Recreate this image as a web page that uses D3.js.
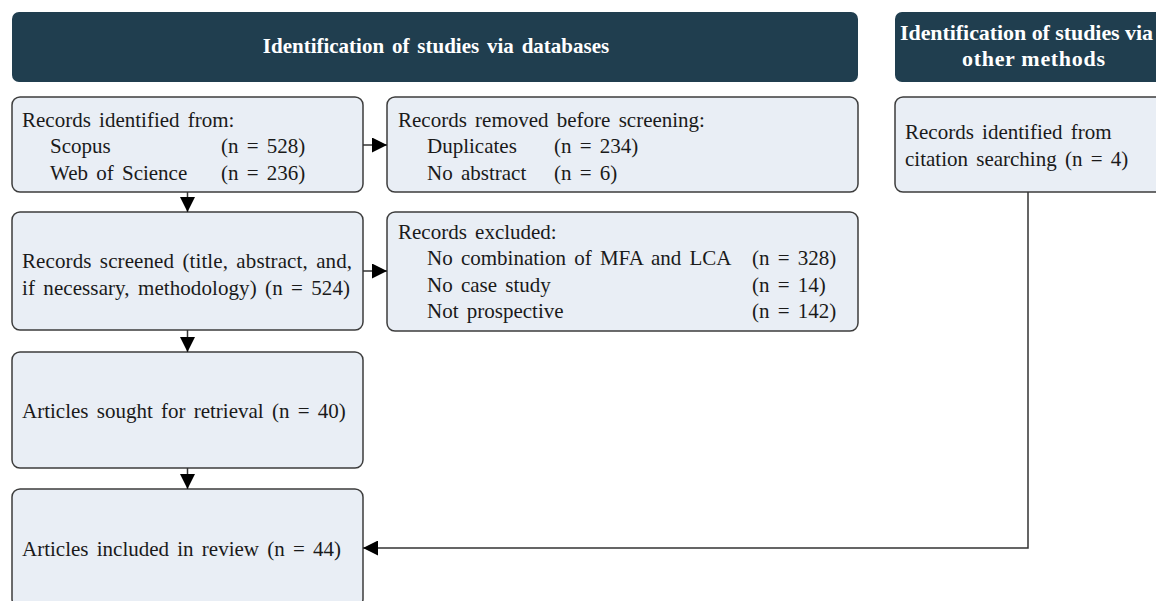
<!DOCTYPE html>
<html>
<head>
<meta charset="utf-8">
<script src="https://cdn.jsdelivr.net/npm/d3@7"></script>
<style>
  html, body { margin: 0; padding: 0; background: #fff; overflow: hidden; }
  text { font-family: "Liberation Serif", "Times New Roman", serif; fill: #1a1a1a; }
</style>
</head>
<body>
<div id="flow"></div>
<script>
//---------------- DATA ----------------
var headers = ["Identification of studies via databases", "Identification of studies via|other methods"];

var sourceNames = ["Scopus", "Web of Science"];
var sourceCounts = [528, 236];

var removedReasons = ["Duplicates", "No abstract"];
var removedCounts = [234, 6];

var excludedReasons = ["No combination of MFA and LCA", "No case study", "Not prospective"];
var excludedCounts = [328, 14, 142];

var stageLabels = ["Records screened", "Articles sought for retrieval", "Articles included in review"];
var stageCounts = [524, 40, 44];

var citationCount = 4;

//---------------- SETUP ----------------
var w = 1156, h = 601;
var headColor = "#203e4f";
var boxFill = "#e9eef5";
var boxStroke = "#3d3d3d";
var fs = 21;

var svg = d3.select("#flow").append("svg")
    .attr("width", w).attr("height", h);

var defs = svg.append("defs");
defs.append("marker")
    .attr("id", "arr")
    .attr("viewBox", "0 0 10 10")
    .attr("refX", 10).attr("refY", 5)
    .attr("markerUnits", "userSpaceOnUse")
    .attr("markerWidth", 15).attr("markerHeight", 15)
    .attr("orient", "auto")
    .append("path")
    .attr("d", "M0,0L10,5L0,10Z")
    .attr("fill", "#000");

// boxes: [x, y, w, h]
var boxes = {
    ident:    [12, 97, 351, 95],
    removed:  [387, 97, 471, 95],
    screened: [12, 212, 351, 118],
    excluded: [387, 212, 471, 119],
    sought:   [12, 352, 351, 116],
    included: [12, 489, 351, 118],
    citation: [895, 97, 290, 95]
};

function drawBox(b) {
    svg.append("rect")
        .attr("x", b[0]).attr("y", b[1])
        .attr("width", b[2]).attr("height", b[3])
        .attr("rx", 8).attr("ry", 8)
        .attr("fill", boxFill)
        .attr("stroke", boxStroke)
        .attr("stroke-width", 1.5);
}

function txt(x, y, s, opts) {
    var t = svg.append("text")
        .attr("x", x).attr("y", y)
        .attr("font-size", fs)
        .style("word-spacing", "3px")
        .text(s);
    if (opts && opts.len) t.attr("textLength", opts.len).attr("lengthAdjust", "spacing");
    return t;
}

function line(pts, arrow) {
    svg.append("path")
        .attr("d", d3.line()(pts))
        .attr("fill", "none")
        .attr("stroke", "#333")
        .attr("stroke-width", 1.5)
        .attr("marker-end", arrow ? "url(#arr)" : null);
}

//---------------- HEADERS ----------------
svg.append("rect").attr("x", 12).attr("y", 12).attr("width", 846).attr("height", 70)
    .attr("rx", 7).attr("fill", headColor);
svg.append("rect").attr("x", 895).attr("y", 12).attr("width", 290).attr("height", 70)
    .attr("rx", 7).attr("fill", headColor);

svg.append("text").attr("x", 436).attr("y", 53)
    .attr("text-anchor", "middle").attr("font-size", 21).attr("font-weight", "bold")
    .style("word-spacing", "2.6px")
    .style("fill", "#fff").text(headers[0]);

var h2 = headers[1].split("|");
// first line runs to the right edge, second line is centred
svg.append("text").attr("x", 900).attr("y", 40)
    .attr("font-size", 22).attr("font-weight", "bold")
    .attr("textLength", 253).attr("lengthAdjust", "spacing")
    .style("fill", "#fff").text(h2[0]);
svg.append("text").attr("x", 962).attr("y", 66)
    .attr("font-size", 22).attr("font-weight", "bold")
    .attr("textLength", 143).attr("lengthAdjust", "spacing")
    .style("fill", "#fff").text(h2[1]);

//---------------- BOXES ----------------
Object.keys(boxes).forEach(function(k) { drawBox(boxes[k]); });

// identification
txt(22, 127, "Records identified from:");
sourceNames.forEach(function(s, i) {
    txt(50, 153 + i * 26.5, s);
    txt(221, 153 + i * 26.5, "(n = " + sourceCounts[i] + ")");
});

// removed
txt(398, 127, "Records removed before screening:");
removedReasons.forEach(function(s, i) {
    txt(427, 153 + i * 26.5, s);
    txt(554, 153 + i * 26.5, "(n = " + removedCounts[i] + ")");
});

// screened
txt(22, 268, stageLabels[0] + " (title, abstract, and,", { len: 330 });
txt(22, 295, "if necessary, methodology) (n = " + stageCounts[0] + ")", { len: 328 });

// excluded
txt(398, 239, "Records excluded:");
excludedReasons.forEach(function(s, i) {
    txt(427, 265 + i * 26.5, s);
    txt(752, 265 + i * 26.5, "(n = " + excludedCounts[i] + ")");
});

// sought, included
txt(22, 418, stageLabels[1] + " (n = " + stageCounts[1] + ")");
txt(22, 556, stageLabels[2] + " (n = " + stageCounts[2] + ")");

// citation
txt(905, 139, "Records identified from");
txt(905, 166, "citation searching (n = " + citationCount + ")");

//---------------- ARROWS ----------------
var bx = boxes;
var cx = bx.ident[0] + bx.ident[2] / 2;
line([[bx.ident[0] + bx.ident[2], 145], [bx.removed[0], 145]], true);
line([[bx.screened[0] + bx.screened[2], 271], [bx.excluded[0], 271]], true);
line([[cx, bx.ident[1] + bx.ident[3]], [cx, bx.screened[1]]], true);
line([[cx, bx.screened[1] + bx.screened[3]], [cx, bx.sought[1]]], true);
line([[cx, bx.sought[1] + bx.sought[3]], [cx, bx.included[1]]], true);
line([[1028, bx.citation[1] + bx.citation[3]], [1028, 548], [bx.included[0] + bx.included[2], 548]], true);
</script>
</body>
</html>
